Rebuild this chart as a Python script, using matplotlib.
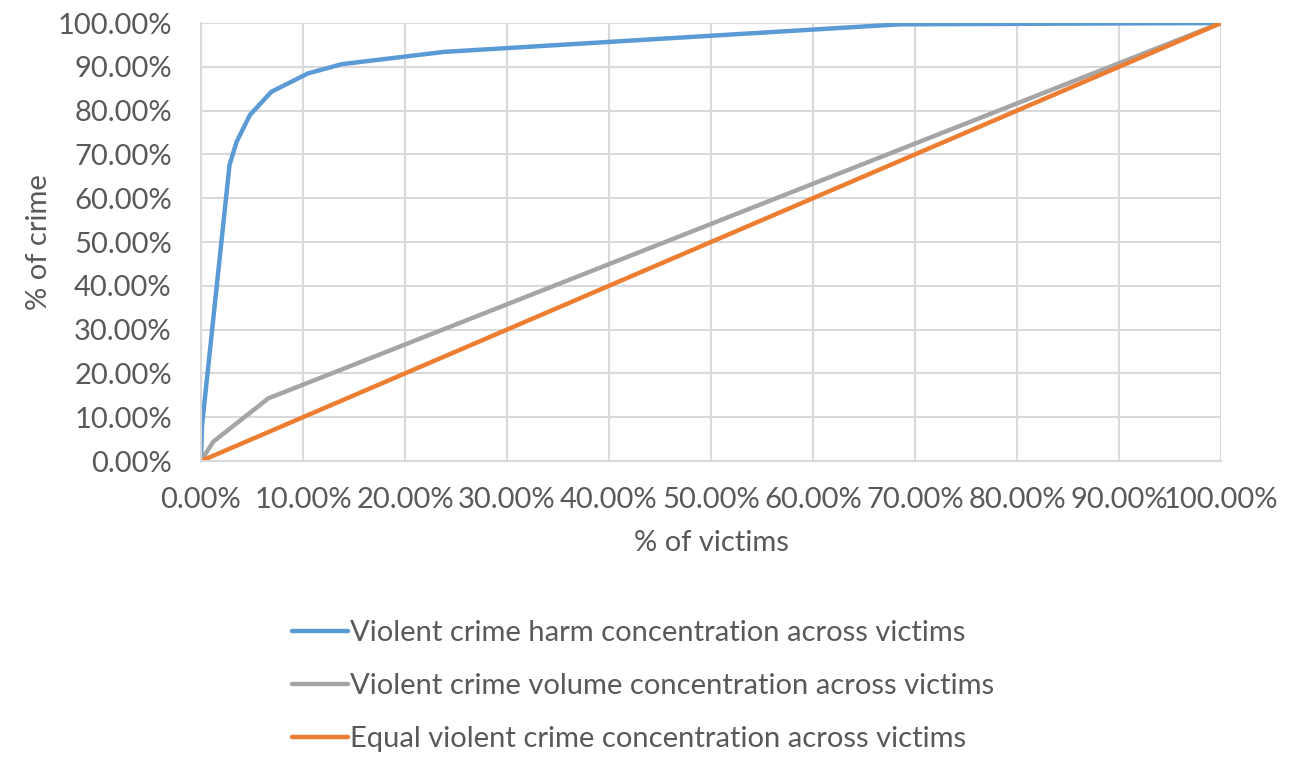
import matplotlib.pyplot as plt
from matplotlib.ticker import FuncFormatter, MultipleLocator

# values in percent
harm_x = [0, 0.1, 2.8, 3.5, 4.8, 6.9, 10.5, 13.8, 23.8, 68.5, 100]
harm_y = [0, 8.0, 67.6, 72.9, 79.0, 84.3, 88.5, 90.6, 93.4, 99.7, 100]

volume_x = [0, 1.2, 6.6, 100]
volume_y = [0, 4.4, 14.3, 100]

equal_x = [0, 100]
equal_y = [0, 100]

labels = [
    "Violent crime harm concentration across victims",
    "Violent crime volume concentration across victims",
    "Equal violent crime concentration across victims",
]

plt.rcParams['font.family'] = ['Lato', 'DejaVu Sans']
text_col = "#595959"
grid_col = "#d9d9d9"
fs = 21

fig = plt.figure(figsize=(12.94, 7.57), dpi=100)
ax = fig.add_axes([0.1553, 0.391, 0.7883, 0.5786])

ax.plot(harm_x, harm_y, color="#5B9BD5", lw=3.2, label=labels[0], solid_capstyle="round")
ax.plot(volume_x, volume_y, color="#A5A5A5", lw=3.2, label=labels[1], solid_capstyle="round")
ax.plot(equal_x, equal_y, color="#ED7D31", lw=3.2, label=labels[2], solid_capstyle="round")

ax.set_xlim(0, 100)
ax.set_ylim(0, 100)
ax.xaxis.set_major_locator(MultipleLocator(10))
ax.yaxis.set_major_locator(MultipleLocator(10))
fmt = FuncFormatter(lambda v, p: f"{v:.2f}%")
ax.xaxis.set_major_formatter(fmt)
ax.yaxis.set_major_formatter(fmt)

ax.grid(True, color=grid_col, lw=1.5)
ax.set_axisbelow(True)
for s in ax.spines.values():
    s.set_visible(False)
ax.spines['left'].set_visible(True)
ax.spines['bottom'].set_visible(True)
ax.spines['left'].set_color(grid_col)
ax.spines['bottom'].set_color(grid_col)
ax.spines['left'].set_linewidth(1.5)
ax.spines['bottom'].set_linewidth(1.5)

ax.tick_params(length=0, labelsize=fs, colors=text_col)
ax.tick_params(axis='x', pad=19)
ax.tick_params(axis='y', pad=21)

ax.set_xlabel("% of victims", fontsize=fs, color=text_col, labelpad=12)
ax.set_ylabel("% of crime", fontsize=fs, color=text_col, labelpad=4)

fig.legend(loc="upper left", bbox_to_anchor=(0.2145, 0.2), frameon=False,
           fontsize=fs, labelcolor=text_col, handlelength=1.9, handletextpad=0.1,
           labelspacing=0.93, borderpad=0)

fig.savefig("out.png", dpi=100)
